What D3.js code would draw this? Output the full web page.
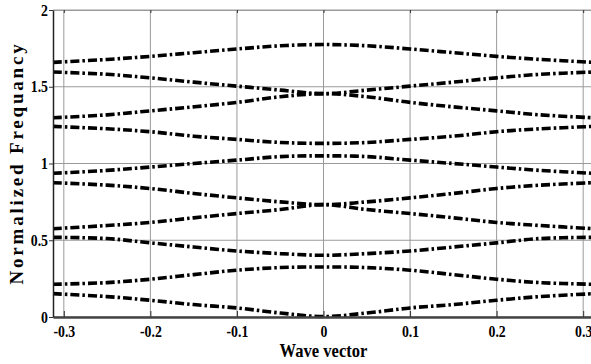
<!DOCTYPE html>
<html>
<head>
<meta charset="utf-8">
<script src="https://cdn.jsdelivr.net/npm/d3@7/dist/d3.min.js"></script>
<style>
  body { margin: 0; background: #fff; }
  svg { display: block; }
  text { font-family: "Liberation Serif", "Times New Roman", serif; font-weight: bold; fill: #000; }
</style>
</head>
<body>
<svg id="chart" width="591" height="364"></svg>
<script>
// wave vector samples
var waveVector = [-0.3125, -0.25, -0.2, -0.15, -0.1, -0.05, 0, 0.05, 0.1, 0.15, 0.2, 0.25, 0.3125];

// normalized frequency of each folded band
var band1  = [0.152, 0.133, 0.109, 0.081, 0.059, 0.026, 0.003, 0.026, 0.059, 0.081, 0.109, 0.133, 0.152];
var band2  = [0.213, 0.224, 0.246, 0.276, 0.305, 0.322, 0.326, 0.322, 0.305, 0.276, 0.246, 0.224, 0.213];
var band3  = [0.519, 0.511, 0.483, 0.456, 0.430, 0.413, 0.402, 0.413, 0.430, 0.456, 0.483, 0.511, 0.519];
var band4  = [0.575, 0.596, 0.616, 0.646, 0.674, 0.700, 0.732, 0.700, 0.674, 0.646, 0.616, 0.596, 0.575];
var band5  = [0.875, 0.859, 0.837, 0.805, 0.776, 0.750, 0.732, 0.750, 0.776, 0.805, 0.837, 0.859, 0.875];
var band6  = [0.936, 0.955, 0.977, 1.000, 1.022, 1.045, 1.050, 1.045, 1.022, 1.000, 0.977, 0.955, 0.936];
var band7  = [1.242, 1.226, 1.207, 1.178, 1.157, 1.137, 1.131, 1.137, 1.157, 1.178, 1.207, 1.226, 1.242];
var band8  = [1.298, 1.317, 1.343, 1.369, 1.398, 1.435, 1.455, 1.435, 1.398, 1.369, 1.343, 1.317, 1.298];
var band9  = [1.596, 1.581, 1.558, 1.530, 1.504, 1.478, 1.455, 1.478, 1.504, 1.530, 1.558, 1.581, 1.596];
var band10 = [1.659, 1.678, 1.698, 1.722, 1.746, 1.767, 1.775, 1.767, 1.746, 1.722, 1.698, 1.678, 1.659];
var bands = [band1, band2, band3, band4, band5, band6, band7, band8, band9, band10];

var xTicks = [-0.3, -0.2, -0.1, 0, 0.1, 0.2, 0.3];
var yTicks = [0, 0.5, 1, 1.5, 2];

var svg = d3.select("#chart");
var plotLeft = 53, plotRight = 594, plotTop = 10, plotBottom = 317;

var x = d3.scaleLinear().domain([-0.3125, 0.3125]).range([plotLeft, plotRight]);
var y = d3.scaleLinear().domain([0, 2]).range([plotBottom, plotTop]);

// grid
svg.append("g")
   .selectAll("line")
   .data(xTicks)
   .enter()
   .append("line")
   .attr("x1", d=>x(d)).attr("x2", d=>x(d))
   .attr("y1", plotTop).attr("y2", plotBottom)
   .style("stroke", "#9a9a9a")
   .style("stroke-width", 1);
svg.append("g")
   .selectAll("line")
   .data(yTicks)
   .enter()
   .append("line")
   .attr("x1", plotLeft).attr("x2", plotRight)
   .attr("y1", d=>y(d)).attr("y2", d=>y(d))
   .style("stroke", "#9a9a9a")
   .style("stroke-width", 1);

// bands
var line = d3.line()
    .x((d, i)=>x(waveVector[i]))
    .y(d=>y(d))
    .curve(d3.curveCatmullRom);

svg.append("g")
   .selectAll("path")
   .data(bands)
   .enter()
   .append("path")
   .attr("d", line)
   .style("fill", "none")
   .style("stroke", "#000")
   .style("stroke-width", 3.6)
   .style("stroke-dasharray", "9,3,2.5,3");

// axes
var xAxis = d3.axisBottom(x).tickValues(xTicks).tickSizeInner(-6).tickSizeOuter(0)
    .tickFormat(d=>d === 0 ? "0" : d3.format(".1f")(d).replace("−", "-"));
var gx = svg.append("g").attr("transform", "translate(0," + plotBottom + ")").call(xAxis);
gx.select(".domain").style("stroke", "#444").style("stroke-width", 2.5);
gx.selectAll(".tick line").style("stroke", "#333");
gx.selectAll("text").attr("y", 0).attr("dy", null)
  .attr("transform", "translate(0,20) scale(0.92,1.1)")
  .style("font-size", "15px")
  .style("font-family", "Liberation Serif").style("font-weight", "bold");

var topTicks = d3.axisTop(x).tickValues(xTicks).tickSizeInner(-3).tickSizeOuter(0).tickFormat("");
var gt = svg.append("g").attr("transform", "translate(0," + plotTop + ")").call(topTicks);
gt.select(".domain").style("stroke", "#9a9a9a");
gt.selectAll(".tick line").style("stroke", "#333");

var yAxis = d3.axisLeft(y).tickValues(yTicks).tickSizeInner(4).tickSizeOuter(0)
    .tickFormat(d=>String(d));
var gy = svg.append("g").attr("transform", "translate(" + plotLeft + ",0)").call(yAxis);
gy.select(".domain").style("stroke", "#222").style("stroke-width", 1.5);
gy.selectAll(".tick line").style("stroke", "#333");
gy.selectAll("text").attr("x", 0).attr("dy", null)
  .attr("transform", "translate(-5,5) scale(0.92,1.1)")
  .style("font-size", "15px")
  .style("font-family", "Liberation Serif").style("font-weight", "bold");

// axis titles
svg.append("text")
   .attr("transform", "translate(" + x(0) + ",357) scale(0.92,1)")
   .attr("text-anchor", "middle")
   .style("font-size", "18px")
   .text("Wave vector");

svg.append("text")
   .attr("transform", "translate(23,163) rotate(-90)")
   .attr("text-anchor", "middle")
   .style("font-size", "19px")
   .style("letter-spacing", "2.8px")
   .text("Normalized Frequancy");
</script>
</body>
</html>
